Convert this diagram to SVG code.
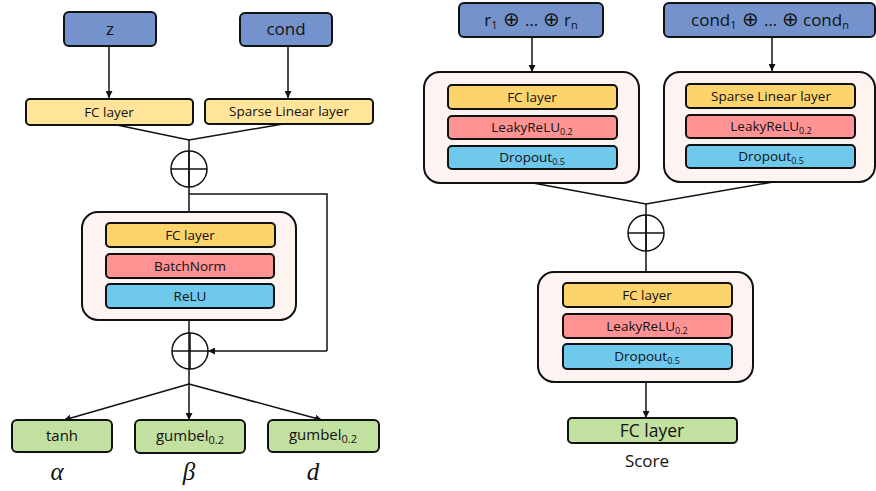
<svg xmlns="http://www.w3.org/2000/svg" width="876" height="491" viewBox="0 0 876 491">
<defs>
<marker id="ah" viewBox="0 0 10 10" refX="10" refY="5" markerWidth="7" markerHeight="7" markerUnits="userSpaceOnUse" orient="auto"><path d="M0,0 L10,5 L0,10 z" fill="#111"/></marker>
<style>
.b{stroke:#111;stroke-width:2}
.in{fill:#7493CC}
.ly{fill:#FFE499}
.y{fill:#FDD46C}
.r{fill:#FF9393}
.c{fill:#6FC9EC}
.g{fill:#C2E09F}
.o{fill:#FDF4F1}
.t{font-family:"Open Sans","Noto Sans",sans-serif;fill:#111;text-anchor:middle}
.s12{font-size:13.5px}
.s15{font-size:17px}
.ln{stroke:#111;stroke-width:1.5;fill:none}
.m{font-family:"Liberation Serif","DejaVu Serif",serif;font-style:italic;font-size:25px;fill:#111;text-anchor:middle}
.sub{font-size:9px}
.op{font-size:20px}
</style>
</defs>
<rect width="876" height="491" fill="#fff"/>

<g id="connectors">
<line class="ln" x1="109" y1="46" x2="109" y2="98" marker-end="url(#ah)"/>
<line class="ln" x1="288" y1="46" x2="288" y2="98" marker-end="url(#ah)"/>
<polyline class="ln" points="117,125 189,140 283,124"/>
<line class="ln" x1="189" y1="140" x2="189" y2="212"/>
<polyline class="ln" points="189,194 327,194 327,351"/>
<line class="ln" x1="327" y1="351" x2="208" y2="351" marker-end="url(#ah)"/>
<line class="ln" x1="189" y1="320" x2="189" y2="384"/>
<line class="ln" x1="189" y1="384" x2="64" y2="420" marker-end="url(#ah)"/>
<line class="ln" x1="189" y1="384" x2="189" y2="420" marker-end="url(#ah)"/>
<line class="ln" x1="189" y1="384" x2="322" y2="420" marker-end="url(#ah)"/>
<line class="ln" x1="532" y1="37" x2="532" y2="72" marker-end="url(#ah)"/>
<line class="ln" x1="772" y1="37" x2="772" y2="71" marker-end="url(#ah)"/>
<polyline class="ln" points="533,183 646,204 773,182"/>
<line class="ln" x1="646" y1="204" x2="646" y2="272"/>
<line class="ln" x1="646" y1="382" x2="646" y2="418" marker-end="url(#ah)"/>
</g>

<g id="sum1"><circle cx="189" cy="169" r="18" fill="#fff" class="ln"/><line class="ln" x1="171" y1="169" x2="207" y2="169"/><line class="ln" x1="189" y1="151" x2="189" y2="187"/></g>
<g id="sum2"><circle cx="190" cy="351" r="18" fill="#fff" class="ln"/><line class="ln" x1="172" y1="351" x2="208" y2="351"/><line class="ln" x1="190" y1="333" x2="190" y2="369"/></g>
<g id="sum3"><circle cx="646" cy="233" r="18" fill="#fff" class="ln"/><line class="ln" x1="628" y1="233" x2="664" y2="233"/><line class="ln" x1="646" y1="215" x2="646" y2="251"/></g>

<g id="z"><rect class="b in" x="64" y="12" width="92" height="34" rx="5"/><text class="t s15" x="110" y="35">z</text></g>
<g id="cond"><rect class="b in" x="240" y="13" width="92" height="33" rx="5"/><text class="t s15" x="286" y="35">cond</text></g>
<g id="fc1"><rect class="b ly" x="26" y="99" width="167" height="26" rx="4"/><text class="t s12" x="109" y="117">FC layer</text></g>
<g id="sparse1"><rect class="b ly" x="205" y="99" width="168" height="25" rx="4"/><text class="t s12" x="289" y="116">Sparse Linear layer</text></g>

<g id="block1">
<rect class="b o" x="82" y="212" width="214" height="108" rx="16"/>
<rect class="b y" x="106" y="223" width="169" height="24" rx="4"/><text class="t s12" x="190" y="240">FC layer</text>
<rect class="b r" x="106" y="254" width="168" height="24" rx="4"/><text class="t s12" x="190" y="271">BatchNorm</text>
<rect class="b c" x="106" y="284" width="168" height="24" rx="4"/><text class="t s12" x="190" y="301">ReLU</text>
</g>

<g id="tanh"><rect class="b g" x="12" y="420" width="100" height="32" rx="5"/><text class="t" font-size="15" x="62" y="441">tanh</text></g>
<g id="gumbel1"><rect class="b g" x="135" y="420" width="110" height="33" rx="5"/><text class="t" font-size="15" x="190" y="441">gumbel<tspan font-size="11" dy="3">0.2</tspan></text></g>
<g id="gumbel2"><rect class="b g" x="268" y="420" width="111" height="32" rx="5"/><text class="t" font-size="15" x="323" y="440">gumbel<tspan font-size="11" dy="3">0.2</tspan></text></g>
<text class="m" x="57" y="480">α</text>
<text class="m" x="189" y="480">β</text>
<text class="m" x="313" y="480">d</text>

<g id="rin"><rect class="b in" x="459" y="3" width="144" height="34" rx="5"/><text class="t s15" x="531" y="26">r<tspan font-size="11" dy="3">1</tspan><tspan class="op" dy="-3"> ⊕ </tspan><tspan>… </tspan><tspan class="op">⊕</tspan><tspan> r</tspan><tspan font-size="11" dy="3">n</tspan></text></g>
<g id="condin"><rect class="b in" x="664" y="3" width="211" height="34" rx="5"/><text class="t s15" x="770" y="26">cond<tspan font-size="11" dy="3">1</tspan><tspan class="op" dy="-3"> ⊕ </tspan><tspan>… </tspan><tspan class="op">⊕</tspan><tspan> cond</tspan><tspan font-size="11" dy="3">n</tspan></text></g>

<g id="blockL">
<rect class="b o" x="424" y="72" width="215" height="111" rx="16"/>
<rect class="b y" x="448" y="85" width="169" height="24" rx="4"/><text class="t s12" x="532" y="102">FC layer</text>
<rect class="b r" x="448" y="116" width="169" height="23" rx="4"/><text class="t s12" x="532" y="132">LeakyReLU<tspan class="sub" dy="3">0.2</tspan></text>
<rect class="b c" x="448" y="146" width="169" height="23" rx="4"/><text class="t s12" x="532" y="162">Dropout<tspan class="sub" dy="3">0.5</tspan></text>
</g>
<g id="blockR">
<rect class="b o" x="664" y="72" width="211" height="110" rx="16"/>
<rect class="b y" x="686" y="84" width="169" height="24" rx="4"/><text class="t s12" x="771" y="101">Sparse Linear layer</text>
<rect class="b r" x="686" y="115" width="169" height="23" rx="4"/><text class="t s12" x="771" y="131">LeakyReLU<tspan class="sub" dy="3">0.2</tspan></text>
<rect class="b c" x="686" y="145" width="169" height="23" rx="4"/><text class="t s12" x="771" y="161">Dropout<tspan class="sub" dy="3">0.5</tspan></text>
</g>
<g id="blockC">
<rect class="b o" x="538" y="272" width="215" height="110" rx="16"/>
<rect class="b y" x="563" y="283" width="169" height="24" rx="4"/><text class="t s12" x="647" y="300">FC layer</text>
<rect class="b r" x="563" y="314" width="169" height="24" rx="4"/><text class="t s12" x="647" y="331">LeakyReLU<tspan class="sub" dy="3">0.2</tspan></text>
<rect class="b c" x="563" y="344" width="169" height="25" rx="4"/><text class="t s12" x="647" y="361">Dropout<tspan class="sub" dy="3">0.5</tspan></text>
</g>
<g id="score"><rect class="b g" x="568" y="418" width="169" height="25" rx="4"/><text class="t" font-size="17.5" x="652" y="437">FC layer</text></g>
<text class="t" font-size="17" x="647" y="467">Score</text>
</svg>
